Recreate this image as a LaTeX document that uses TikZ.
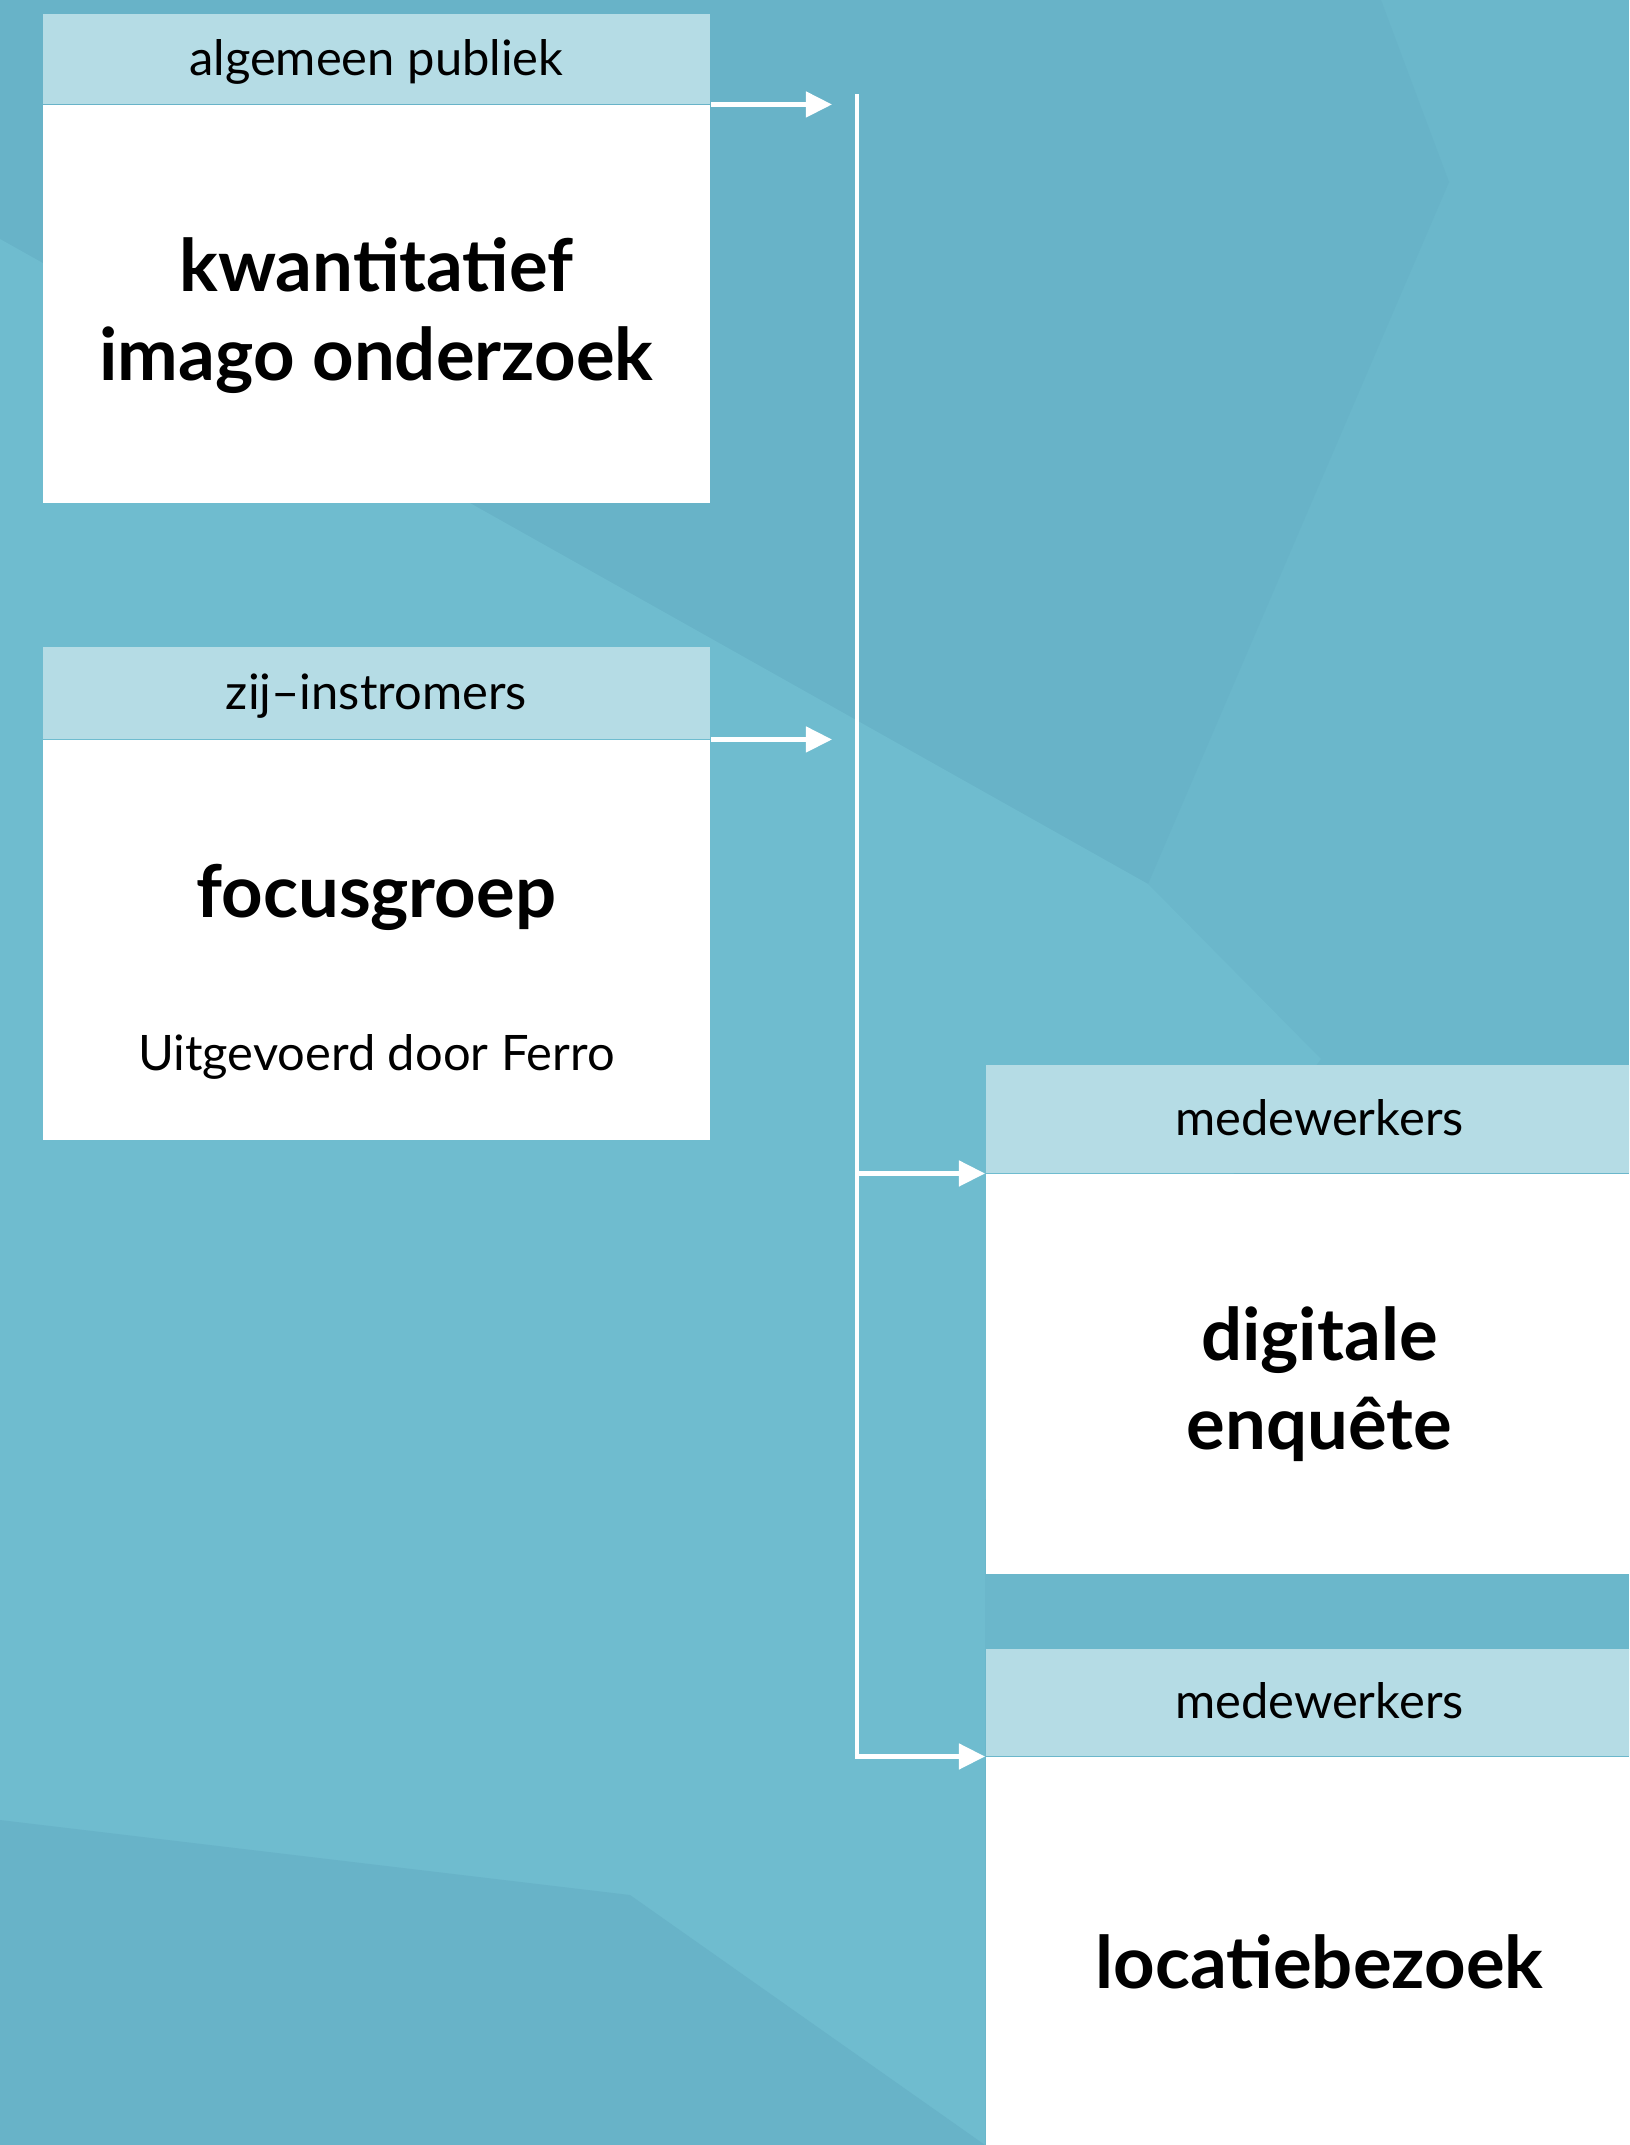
\documentclass[tikz,border=0pt]{standalone}
\usepackage{fontspec}
\setmainfont{Lato}
\usepackage{tikz}
\usetikzlibrary{positioning, calc, arrows.meta}
\definecolor{tealmid}{RGB}{107, 183, 203}
\definecolor{tealdark}{RGB}{104, 179, 200}
\definecolor{teallight}{RGB}{111, 188, 207}
\definecolor{headerblue}{RGB}{181, 220, 229}

\begin{document}
\begin{tikzpicture}[
        x=0.01cm, y=-0.01cm,
        node distance=0pt,
        header/.style={rectangle, fill=headerblue, minimum width=6.67cm, minimum height=0.9cm, inner sep=0pt, text height=0.38cm, text depth=0.05cm, font=\fontsize{13.9}{16}\selectfont},
        body/.style={rectangle, fill=white, minimum width=6.67cm, minimum height=4cm, inner sep=0pt},
        bigtext/.style={inner sep=0pt, align=center, font=\fontsize{20.6}{25.3}\selectfont\bfseries},
        smalltext/.style={inner sep=0pt, font=\fontsize{13.9}{16}\selectfont},
        arrow/.style={-{Triangle[length=0.26cm, width=0.25cm]}, draw=white, line width=0.045cm}
    ]
        \clip (0,0) rectangle (1629,2145);
        % background facets
        \fill[tealmid] (0,0) rectangle (1629,2145);
        \fill[tealdark] (0,0) -- (0,239) -- (1148,884) -- (1449,182) -- (1381,0) -- cycle;
        \fill[teallight] (0,239) -- (1148,884) -- (1321,1059) -- (985,1500) -- (985,2145) -- (0,2145) -- cycle;
        \fill[tealdark] (0,1820) -- (630,1895) -- (985,2145) -- (0,2145) -- cycle;

        % left column
        \node[header, anchor=north west] (hdrImago) at (42,13) {algemeen publiek};
        \node[body, below=of hdrImago, minimum height=3.98cm] (imagobox) {};
        \node[bigtext] (imago) at ($(imagobox.center)+(0,11)$) {kwantitatief\\imago onderzoek};

        \node[header, anchor=north west, minimum height=0.92cm] (hdrFocus) at (42,646) {zij–instromers};
        \node[body, below=of hdrFocus] (focusbox) {};
        \node[bigtext, anchor=base] (focus) at ($(focusbox.north)+(0,178)$) {focusgroep};
        \node[smalltext, anchor=base] (ferro) at ($(focusbox.north)+(0,331)$) {Uitgevoerd door Ferro};

        % right column
        \node[header, anchor=north west, minimum height=1.08cm] (hdrEnquete) at (985,1064) {medewerkers};
        \node[body, below=of hdrEnquete] (enquetebox) {};
        \node[bigtext] (enquete) at ($(enquetebox.center)+(0,10)$) {digitale\\enquête};

        \node[header, anchor=north west, minimum height=1.07cm] (hdrBezoek) at (985,1648) {medewerkers};
        \node[body, below=of hdrBezoek] (bezoekbox) {};
        \node[bigtext] (bezoek) at ($(bezoekbox.center)+(0,5)$) {locatiebezoek};

        % connectors
        \coordinate (busTop) at (857,94);
        \coordinate (tipIn) at (832,0);
        \draw[arrow] (hdrImago.south east) -- (hdrImago.south east -| tipIn);
        \draw[arrow] (hdrFocus.south east) -- (hdrFocus.south east -| tipIn);
        \draw[arrow] (busTop) |- (hdrBezoek.south west);
        \draw[arrow] (hdrEnquete.south west -| busTop) -- (hdrEnquete.south west);
    \end{tikzpicture}
\end{document}
